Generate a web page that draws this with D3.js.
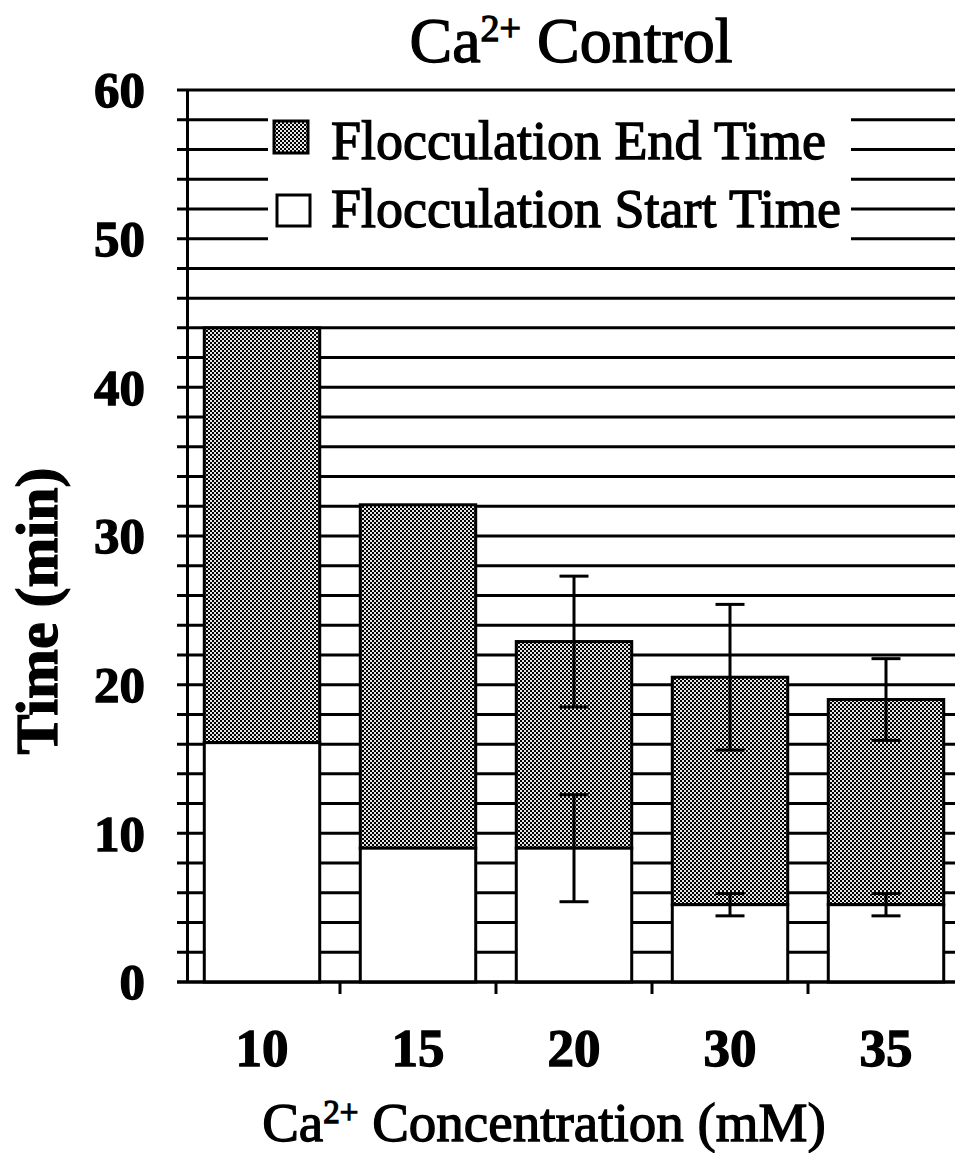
<!DOCTYPE html>
<html>
<head>
<meta charset="utf-8">
<script src="https://cdn.jsdelivr.net/npm/d3@7"></script>
<style>
  html, body { margin: 0; padding: 0; background: #fff; }
  svg { display: block; }
  text { font-family: "Liberation Serif", "Times New Roman", serif; fill: #000; }
  .heavy { stroke: #000; stroke-width: 1.3px; }
</style>
</head>
<body>
<svg id="chart" width="955" height="1153"></svg>
<script>
// Ca2+ concentrations (mM) and flocculation times (min)
const concentrations = ["10", "15", "20", "30", "35"];
const startTime = [16.1, 9.0, 9.0, 5.2, 5.2];
const endTime   = [44.0, 32.1, 22.9, 20.5, 19.0];
const startErr  = [null, null, 3.6, 0.75, 0.75];
const endErr    = [null, null, 4.4, 4.9, 2.75];
const yTicks    = [0, 10, 20, 30, 40, 50, 60];
const gridTicks = d3.range(0, 61, 2);
const legendLabels = ["Flocculation End Time", "Flocculation Start Time"];

const svg = d3.select("#chart");
const W = 955;

// pattern for the end-time bars (fine checkerboard dither)
const defs = svg.append("defs");
const pat = defs.append("pattern")
  .attr("id", "dither").attr("patternUnits", "userSpaceOnUse")
  .attr("width", 4).attr("height", 4);
pat.append("rect").attr("width", 4).attr("height", 4).attr("fill", "#e6e6e6");
pat.append("rect").attr("x", 0).attr("y", 0).attr("width", 2).attr("height", 2).attr("fill", "#000");
pat.append("rect").attr("x", 2).attr("y", 2).attr("width", 2).attr("height", 2).attr("fill", "#000");

const axisX = 187;
const y = d3.scaleLinear().domain([0, 60]).range([982, 90]);
const x = d3.scaleBand().domain(concentrations).range([184, 964])
  .paddingInner(0.26).paddingOuter(0.13);

// horizontal gridlines every 2 min, extending left past the axis as ticks
svg.append("g").selectAll("line").data(gridTicks).join("line")
  .attr("x1", axisX - 10).attr("x2", W)
  .attr("y1", d => y(d)).attr("y2", d => y(d))
  .attr("stroke", "#000").attr("stroke-width", 3);

// legend panel (white box covering the gridlines)
svg.append("rect").attr("x", 268).attr("y", 102).attr("width", 583).attr("height", 150)
  .attr("fill", "#fff");

// stacked bars: start time (white) under end time (dithered)
const bars = svg.append("g");
concentrations.forEach((c, i) => {
  bars.append("rect")
    .attr("x", x(c)).attr("width", x.bandwidth())
    .attr("y", y(endTime[i])).attr("height", y(startTime[i]) - y(endTime[i]))
    .attr("fill", "url(#dither)").attr("stroke", "#000").attr("stroke-width", 3);
  bars.append("rect")
    .attr("x", x(c)).attr("width", x.bandwidth())
    .attr("y", y(startTime[i])).attr("height", y(0) - y(startTime[i]))
    .attr("fill", "#fff").attr("stroke", "#000").attr("stroke-width", 3);
});

// error bars
const errG = svg.append("g").attr("stroke", "#000").attr("stroke-width", 3);
function errorBar(cx, v, e) {
  const cap = 14.5;
  errG.append("line").attr("x1", cx).attr("x2", cx).attr("y1", y(v + e)).attr("y2", y(v - e));
  errG.append("line").attr("x1", cx - cap).attr("x2", cx + cap).attr("y1", y(v + e)).attr("y2", y(v + e));
  errG.append("line").attr("x1", cx - cap).attr("x2", cx + cap).attr("y1", y(v - e)).attr("y2", y(v - e));
}
concentrations.forEach((c, i) => {
  const cx = x(c) + x.bandwidth() / 2;
  if (endErr[i] != null) errorBar(cx, endTime[i], endErr[i]);
  if (startErr[i] != null) errorBar(cx, startTime[i], startErr[i]);
});

// y axis
const yAxis = d3.axisLeft(y).tickValues(yTicks).tickSize(0).tickPadding(42);
const yG = svg.append("g").attr("transform", `translate(${axisX},0)`).call(yAxis);
yG.select(".domain").attr("stroke", "#000").attr("stroke-width", 3);
yG.selectAll("text").attr("font-size", 51).attr("font-weight", "bold")
  .attr("font-family", "Liberation Serif, serif").attr("class", "heavy").attr("dy", "0.33em");

// x axis: baseline with ticks at category boundaries
svg.append("line").attr("x1", axisX - 10).attr("x2", W).attr("y1", y(0)).attr("y2", y(0))
  .attr("stroke", "#000").attr("stroke-width", 3);
const step = x.step();
svg.append("g").selectAll("line").data(concentrations.slice(1)).join("line")
  .attr("x1", d => x(d) - (step - x.bandwidth()) / 2).attr("x2", d => x(d) - (step - x.bandwidth()) / 2)
  .attr("y1", y(0)).attr("y2", y(0) + 12)
  .attr("stroke", "#000").attr("stroke-width", 3);
svg.append("g").selectAll("text").data(concentrations).join("text")
  .attr("x", d => x(d) + x.bandwidth() / 2).attr("y", 1066)
  .attr("text-anchor", "middle").attr("font-size", 53).attr("font-weight", "bold")
  .attr("class", "heavy")
  .text(d => d);

// legend
const legend = svg.append("g");
legend.append("rect").attr("x", 274).attr("y", 121).attr("width", 34).attr("height", 32)
  .attr("fill", "url(#dither)").attr("stroke", "#000").attr("stroke-width", 3);
legend.append("rect").attr("x", 277).attr("y", 195).attr("width", 33).attr("height", 31)
  .attr("fill", "#fff").attr("stroke", "#000").attr("stroke-width", 3);
legend.selectAll("text").data(legendLabels).join("text")
  .attr("x", 331).attr("y", (d, i) => 159 + i * 68)
  .attr("font-size", 54).attr("class", "heavy").text(d => d);

// title
const title = svg.append("text").attr("x", 571).attr("y", 62)
  .attr("text-anchor", "middle").attr("font-size", 64).attr("class", "heavy");
title.append("tspan").text("Ca");
title.append("tspan").attr("baseline-shift", "super").attr("font-size", 38).text("2+");
title.append("tspan").text(" Control");

// axis titles
const xt = svg.append("text").attr("x", 544).attr("y", 1141)
  .attr("text-anchor", "middle").attr("font-size", 55).attr("class", "heavy");
xt.append("tspan").text("Ca");
xt.append("tspan").attr("baseline-shift", "super").attr("font-size", 33).text("2+");
xt.append("tspan").text(" Concentration (mM)");

svg.append("text").attr("transform", "translate(57,611) rotate(-90)")
  .attr("text-anchor", "middle").attr("font-size", 60).attr("font-weight", "bold")
  .attr("class", "heavy")
  .text("Time (min)");
</script>
</body>
</html>
